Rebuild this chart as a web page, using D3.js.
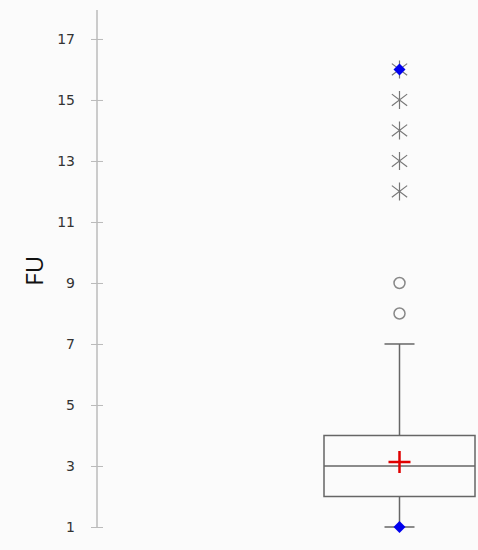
<!DOCTYPE html>
<html lang="en">
<head>
  <meta charset="UTF-8">
  <title>FU box plot</title>
  <script src="https://d3js.org/d3.v7.min.js"></script>
  <style>
    body { margin: 0; background: #fbfbfb; font-family: "Open Sans", Arial, sans-serif; }
    svg { display: block; }
  </style>
</head>
<body>
  <svg width="478" height="550"></svg>
  <script>
    const category = ["FU"];
    const tickValues = [1, 3, 5, 7, 9, 11, 13, 15, 17];
    // box summary
    const q1 = [2], median = [3], q3 = [4], mean = [3.13];
    const whiskerLow = [1], whiskerHigh = [7];
    const minMax = [1, 16];
    const mildOutliers = [8, 9];
    const extremeOutliers = [12, 13, 14, 15, 16];

    const svg = d3.select("svg");

    const y = d3.scaleLinear().domain([1, 17.95]).range([527, 10]);
    const x = d3.scaleBand().domain(category).range([324, 475]);
    const cx = x("FU") + x.bandwidth() / 2;

    // y axis
    const axis = svg.append("g")
      .attr("transform", "translate(97,0)")
      .call(d3.axisLeft(y).tickValues(tickValues).tickSize(6).tickPadding(16));
    axis.attr("font-family", "'DejaVu Sans', Verdana, sans-serif").attr("font-size", 14);
    axis.select(".domain").attr("stroke", "#bbb").attr("stroke-width", 1.5).attr("d", `M0,${y.range()[1]}V${y(1)}`);
    axis.selectAll(".tick line").attr("stroke", "#bbb").attr("x1", -6).attr("x2", 6);
    axis.selectAll(".tick text").attr("fill", "#333");

    svg.append("text")
      .attr("transform", `translate(43,${y(9.4)}) rotate(-90)`)
      .attr("text-anchor", "middle")
      .attr("font-family", "'Open Sans', sans-serif")
      .attr("font-size", 24)
      .attr("fill", "#111")
      .text("FU");

    const g = svg.append("g").attr("stroke", "#666").attr("stroke-width", 1.5).attr("fill", "none");

    // whiskers
    g.append("line").attr("x1", cx).attr("x2", cx).attr("y1", y(whiskerHigh[0])).attr("y2", y(q3[0]));
    g.append("line").attr("x1", cx).attr("x2", cx).attr("y1", y(q1[0])).attr("y2", y(whiskerLow[0]));
    [whiskerHigh[0], whiskerLow[0]].forEach(v => {
      g.append("line").attr("x1", cx - 15).attr("x2", cx + 15).attr("y1", y(v)).attr("y2", y(v));
    });

    // box
    g.append("rect")
      .attr("x", x("FU")).attr("width", x.bandwidth())
      .attr("y", y(q3[0])).attr("height", y(q1[0]) - y(q3[0]));
    g.append("line").attr("x1", x("FU")).attr("x2", x("FU") + x.bandwidth())
      .attr("y1", y(median[0])).attr("y2", y(median[0]));

    // mean
    const m = y(mean[0]);
    svg.append("path")
      .attr("d", `M${cx - 11},${m}H${cx + 11}M${cx},${m - 11}V${m + 11}`)
      .attr("stroke", "#e00000").attr("stroke-width", 2.5);

    // mild outliers
    svg.selectAll(".mild").data(mildOutliers).join("circle")
      .attr("cx", cx).attr("cy", d => y(d)).attr("r", 5.5)
      .attr("fill", "none").attr("stroke", "#888").attr("stroke-width", 1.5);

    // extreme outliers (asterisk)
    const s = 9;
    svg.selectAll(".ext").data(extremeOutliers).join("path")
      .attr("d", d => {
        const py = y(d);
        return `M${cx},${py - s}V${py + s}` +
               `M${cx - s * 0.85},${py - s * 0.65}L${cx + s * 0.85},${py + s * 0.65}` +
               `M${cx - s * 0.85},${py + s * 0.65}L${cx + s * 0.85},${py - s * 0.65}`;
      })
      .attr("stroke", "#777").attr("stroke-width", 1.2).attr("fill", "none");

    // min / max
    svg.selectAll(".mm").data(minMax).join("path")
      .attr("transform", d => `translate(${cx},${y(d)})`)
      .attr("d", "M0,-6L6,0L0,6L-6,0Z")
      .attr("fill", "#0000ee");
  </script>
</body>
</html>
